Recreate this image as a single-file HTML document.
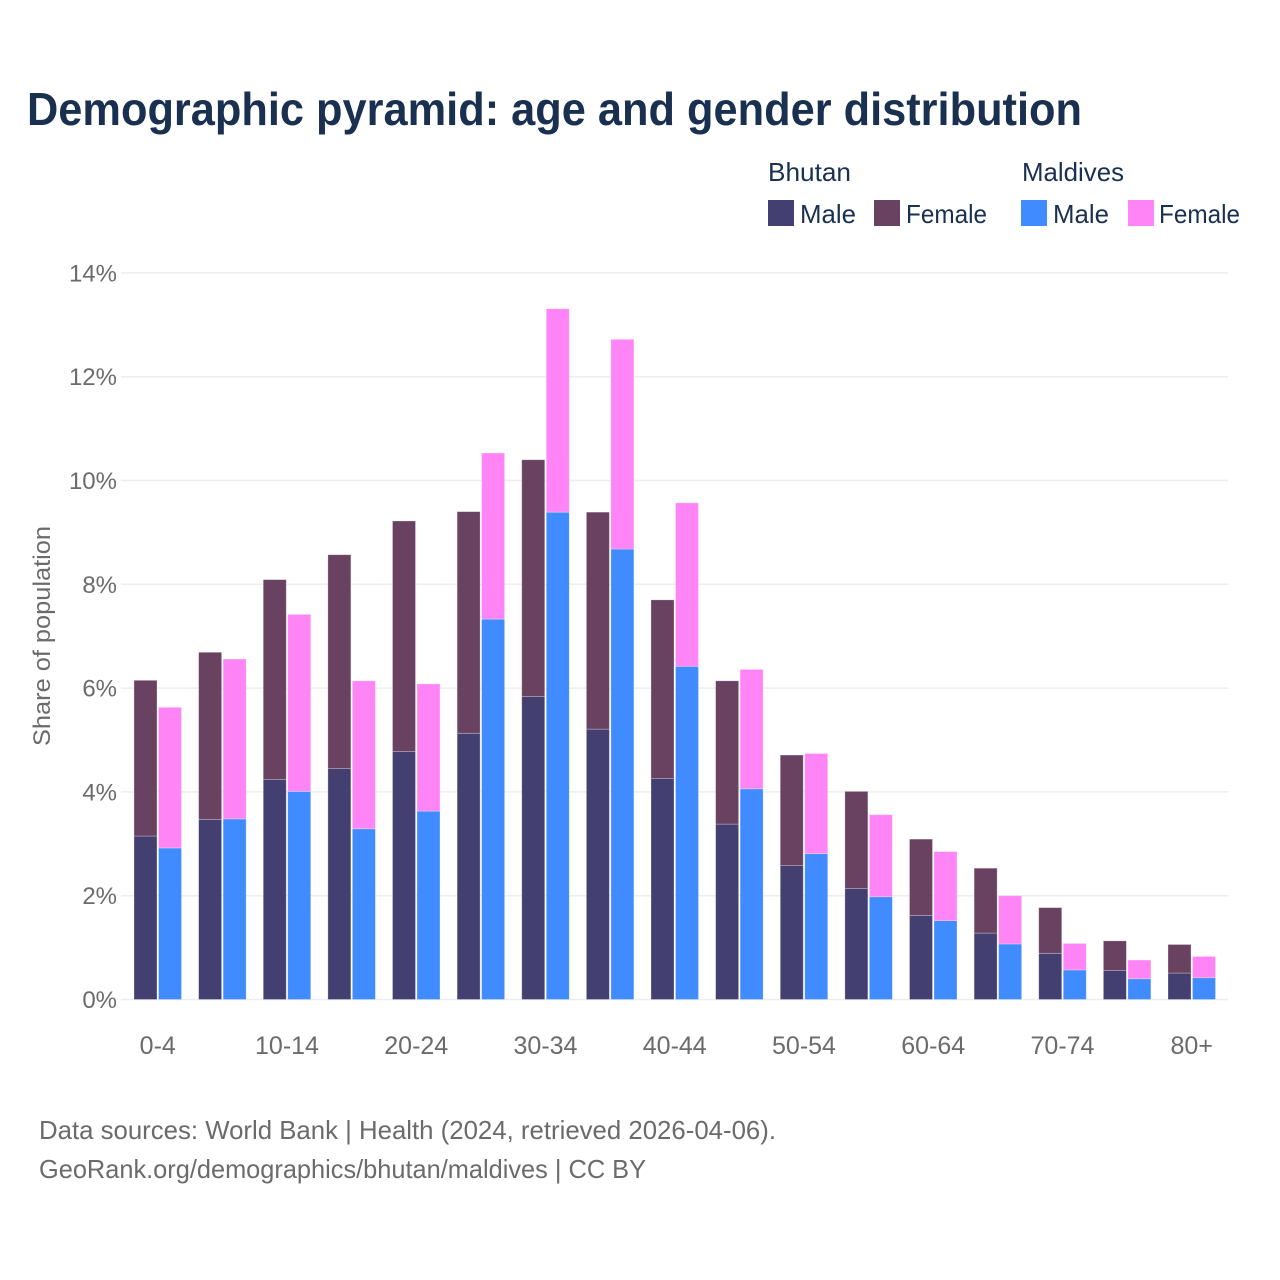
<!DOCTYPE html>
<html lang="en">
<head>
<meta charset="utf-8">
<title>Demographic pyramid: age and gender distribution</title>
<style>
  html, body { margin: 0; padding: 0; background: #fff; }
  svg { display: block; font-family: "Liberation Sans", sans-serif; }
</style>
</head>
<body>
<svg id="chart" xmlns="http://www.w3.org/2000/svg" width="1280" height="1280" viewBox="0 0 1280 1280">
  <rect x="0" y="0" width="1280" height="1280" fill="#ffffff"/>
  <text x="27" y="125" font-size="46" font-weight="700" fill="#1a3050" textLength="1055" lengthAdjust="spacingAndGlyphs">Demographic pyramid: age and gender distribution</text>

  <g font-size="26" fill="#1a3050">
    <text x="768" y="181" textLength="83" lengthAdjust="spacingAndGlyphs">Bhutan</text>
    <text x="1022" y="181" textLength="102" lengthAdjust="spacingAndGlyphs">Maldives</text>
    <rect x="768" y="200" width="26" height="26" fill="#443f71"/>
    <text x="800" y="223" textLength="56" lengthAdjust="spacingAndGlyphs">Male</text>
    <rect x="874" y="200" width="26" height="26" fill="#694161"/>
    <text x="906" y="223" textLength="81" lengthAdjust="spacingAndGlyphs">Female</text>
    <rect x="1021" y="200" width="26" height="26" fill="#3f8bff"/>
    <text x="1053" y="223" textLength="56" lengthAdjust="spacingAndGlyphs">Male</text>
    <rect x="1128" y="200" width="26" height="26" fill="#ff85f7"/>
    <text x="1159" y="223" textLength="81" lengthAdjust="spacingAndGlyphs">Female</text>
  </g>

  <g id="grid"></g>
  <g id="bars"></g>
  <g id="yticks"></g>
  <g id="xticks"></g>

  <text transform="translate(50,636) rotate(-90)" text-anchor="middle" font-size="24" fill="#6b6b6b" textLength="220" lengthAdjust="spacingAndGlyphs">Share of population</text>

  <text x="39" y="1139" font-size="26" fill="#6b6b6b" textLength="737" lengthAdjust="spacingAndGlyphs">Data sources: World Bank | Health (2024, retrieved 2026-04-06).</text>
  <text x="39" y="1178" font-size="26" fill="#6b6b6b" textLength="607" lengthAdjust="spacingAndGlyphs">GeoRank.org/demographics/bhutan/maldives | CC BY</text>
</svg>

<script>
const categories = ["0-4","5-9","10-14","15-19","20-24","25-29","30-34","35-39","40-44","45-49","50-54","55-59","60-64","65-69","70-74","75-79","80+"];
const bhutanMale = [3.15,3.47,4.24,4.45,4.78,5.13,5.84,5.21,4.26,3.38,2.58,2.14,1.62,1.28,0.89,0.56,0.51];
const bhutanFemale = [3.00,3.22,3.85,4.12,4.44,4.27,4.56,4.18,3.44,2.76,2.13,1.87,1.47,1.25,0.88,0.57,0.55];
const maldivesMale = [2.92,3.48,4.01,3.29,3.63,7.33,9.39,8.68,6.42,4.06,2.81,1.98,1.52,1.07,0.57,0.40,0.42];
const maldivesFemale = [2.71,3.08,3.41,2.85,2.45,3.20,3.92,4.04,3.15,2.30,1.93,1.58,1.33,0.93,0.51,0.36,0.41];
const yTicks = [0,2,4,6,8,10,12,14];
const yTickLabels = ["0%","2%","4%","6%","8%","10%","12%","14%"];
const xLabelStep = 2;

const SVG_NS = "http://www.w3.org/2000/svg";
const plotLeft = 121, plotRight = 1228;
const y0 = 999.5, pxPerUnit = 51.9;
const groupStart = 134, groupStep = 64.625, barWidth = 23, barGap = 1.5;

function yScale(v) { return y0 - v * pxPerUnit; }
function xScale(i) { return groupStart + i * groupStep; }

function makeEl(tag, attrs) {
  const el = document.createElementNS(SVG_NS, tag);
  for (const k in attrs) el.setAttribute(k, attrs[k]);
  return el;
}

const gridG = document.getElementById("grid");
const yTickG = document.getElementById("yticks");
yTicks.forEach(function (t, i) {
  const line = makeEl("line", { x1: plotLeft, x2: plotRight, y1: yScale(t), y2: yScale(t), stroke: "#eeeeee", "stroke-width": 1.5 });
  
  
  gridG.appendChild(line);
  const label = makeEl("text", { x: 117, y: yScale(t) + 8.5, "text-anchor": "end", "font-size": 24, fill: "#6b6b6b" });
  
  
  label.textContent = yTickLabels[i];
  yTickG.appendChild(label);
});

const barsG = document.getElementById("bars");
function drawBar(x, base, value, fill, name) {
  const rect = makeEl("rect", {
    x: x, y: yScale(base + value), width: barWidth, height: value * pxPerUnit,
    fill: fill, stroke: "#ffffff", "stroke-opacity": 0.35, "stroke-width": 0.8
  });
  
  
  barsG.appendChild(rect);
}

const xTickG = document.getElementById("xticks");
categories.forEach(function (cat, i) {
  const xB = xScale(i);
  const xM = xB + barWidth + barGap;
  drawBar(xB, 0, bhutanMale[i], "#443f71", "bar-bhutan-male");
  drawBar(xB, bhutanMale[i], bhutanFemale[i], "#694161", "bar-bhutan-female");
  drawBar(xM, 0, maldivesMale[i], "#3f8bff", "bar-maldives-male");
  drawBar(xM, maldivesMale[i], maldivesFemale[i], "#ff85f7", "bar-maldives-female");
  if (i % xLabelStep === 0) {
    const label = makeEl("text", { x: xB + barWidth + barGap / 2, y: 1054, "text-anchor": "middle", "font-size": 25, fill: "#6b6b6b" });
    
    
    label.textContent = cat;
    xTickG.appendChild(label);
  }
});
</script>
</body>
</html>
